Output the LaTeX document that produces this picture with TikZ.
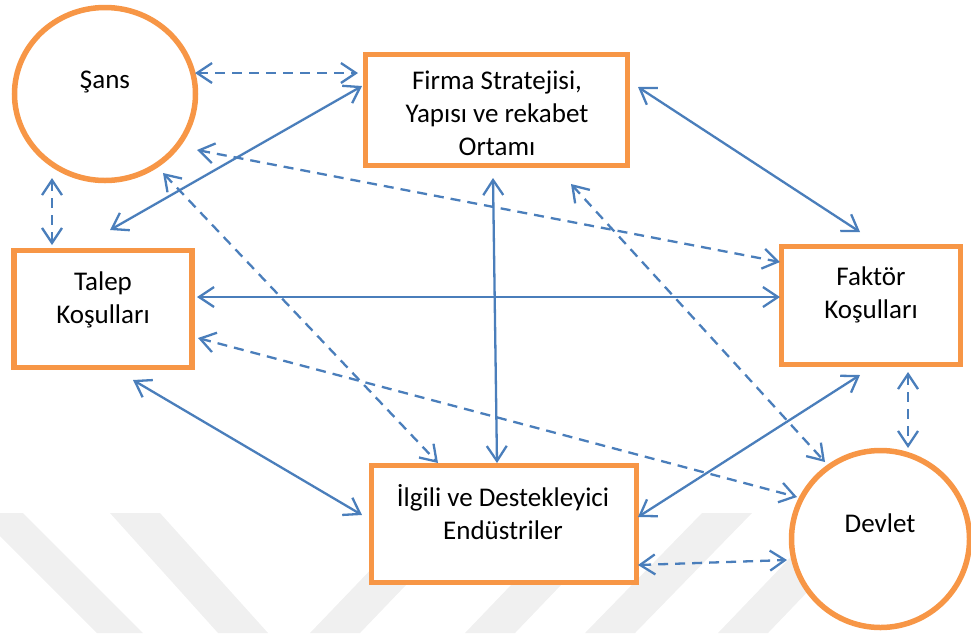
\documentclass[tikz,border=0pt]{standalone}
\usepackage{fontspec}
\setmainfont{Carlito}
\usetikzlibrary{arrows.meta,shapes.geometric,calc}
\definecolor{orng}{HTML}{F79646}
\definecolor{blu}{HTML}{4A7EBB}
\definecolor{wm}{HTML}{F0F0F0}
\begin{document}
\begin{tikzpicture}[x=1pt,y=-1pt,
  >={Straight Barb[length=15pt,width=20pt]},
  box/.style={draw=orng,line width=5.5pt,fill=white,rectangle,inner sep=0pt},
  oval/.style={draw=orng,line width=5.5pt,fill=white,ellipse,inner sep=0pt},
  lbl/.style={font=\fontsize{27}{33}\selectfont,align=center,inner sep=0pt},
  link/.style={draw=blu,line width=2.3pt,<->},
  dlink/.style={link,dash pattern=on 10pt off 7pt},
  wmark/.style={fill=wm,draw=none}
]
\useasboundingbox (0,0) rectangle (971,633);
% faint background watermark stripes
\fill[wmark] (0,513) -- (23,513) -- (143,633) -- (97,633) -- (0,536) -- cycle;
\fill[wmark] (110,513) -- (160,513) -- (268,633) -- (218,633) -- cycle;
\fill[wmark] (310,633) -- (360,633) -- (475,513) -- (425,513) -- cycle;
\fill[wmark] (465,633) -- (515,633) -- (630,513) -- (580,513) -- cycle;
\fill[wmark] (585,633) -- (635,633) -- (752,513) -- (702,513) -- cycle;
\fill[wmark] (718,633) -- (768,633) -- (883,513) -- (833,513) -- cycle;

% shapes
\node[oval,minimum width=181pt,minimum height=173pt] (sans) at (105,94) {};
\node[box,minimum width=262pt,minimum height=111pt] (firma) at (496.5,110) {};
\node[box,minimum width=178pt,minimum height=117pt] (talep) at (103,309) {};
\node[box,minimum width=179pt,minimum height=118pt] (faktor) at (871,305.5) {};
\node[box,minimum width=265pt,minimum height=117pt] (ilgili) at (504,524) {};
\node[oval,minimum width=178pt,minimum height=177pt] (devlet) at (880.5,539) {};

% labels
\node[lbl] (tsans) at (105,82) {Şans};
\node[lbl] (tfirma) at (497,113) {Firma Stratejisi,\\Yapısı ve rekabet\\Ortamı};
\node[lbl] (ttalep) at (103,300) {Talep\\Koşulları};
\node[lbl] (tfaktor) at (871,295) {Faktör\\Koşulları};
\node[lbl] (tilgili) at (503,512) {İlgili ve Destekleyici\\Endüstriler};
\node[lbl] (tdevlet) at (880,523) {Devlet};

% solid connectors
\draw[link] ([shift={(7,-79)}]talep.center) -- ([shift={(-134.5,-24)}]firma.center);
\draw[link] ([shift={(141.5,-23)}]firma.center) -- ([shift={(-11,-73.5)}]faktor.center);
\draw[link] ([shift={(94,-12)}]talep.center) -- ([shift={(-91,-8.5)}]faktor.center);
\draw[link] ([shift={(-3.5,68)}]firma.center) -- ([shift={(-7,-61)}]ilgili.center);
\draw[link] ([shift={(30,71)}]talep.center) -- ([shift={(-142,-9)}]ilgili.center);
\draw[link] ([shift={(-11,69.5)}]faktor.center) -- ([shift={(134,-7)}]ilgili.center);

% dashed connectors
\draw[dlink] ([shift={(90,-21)}]sans.center) -- ([shift={(-138.5,-37)}]firma.center);
\draw[dlink] ([shift={(-53,84)}]sans.center) -- ([shift={(-51,-64)}]talep.center);
\draw[dlink] ([shift={(92,56)}]sans.center) -- ([shift={(-91,-43.5)}]faktor.center);
\draw[dlink] ([shift={(58,79)}]sans.center) -- ([shift={(-66,-61)}]ilgili.center);
\draw[dlink] ([shift={(74.5,74)}]firma.center) -- ([shift={(-55.5,-77)}]devlet.center);
\draw[dlink] ([shift={(95,29)}]talep.center) -- ([shift={(-83.5,-42)}]devlet.center);
\draw[dlink] ([shift={(37,66.5)}]faktor.center) -- ([shift={(27.5,-91)}]devlet.center);
\draw[dlink] ([shift={(134,41)}]ilgili.center) -- ([shift={(-93.5,21)}]devlet.center);
\end{tikzpicture}
\end{document}
